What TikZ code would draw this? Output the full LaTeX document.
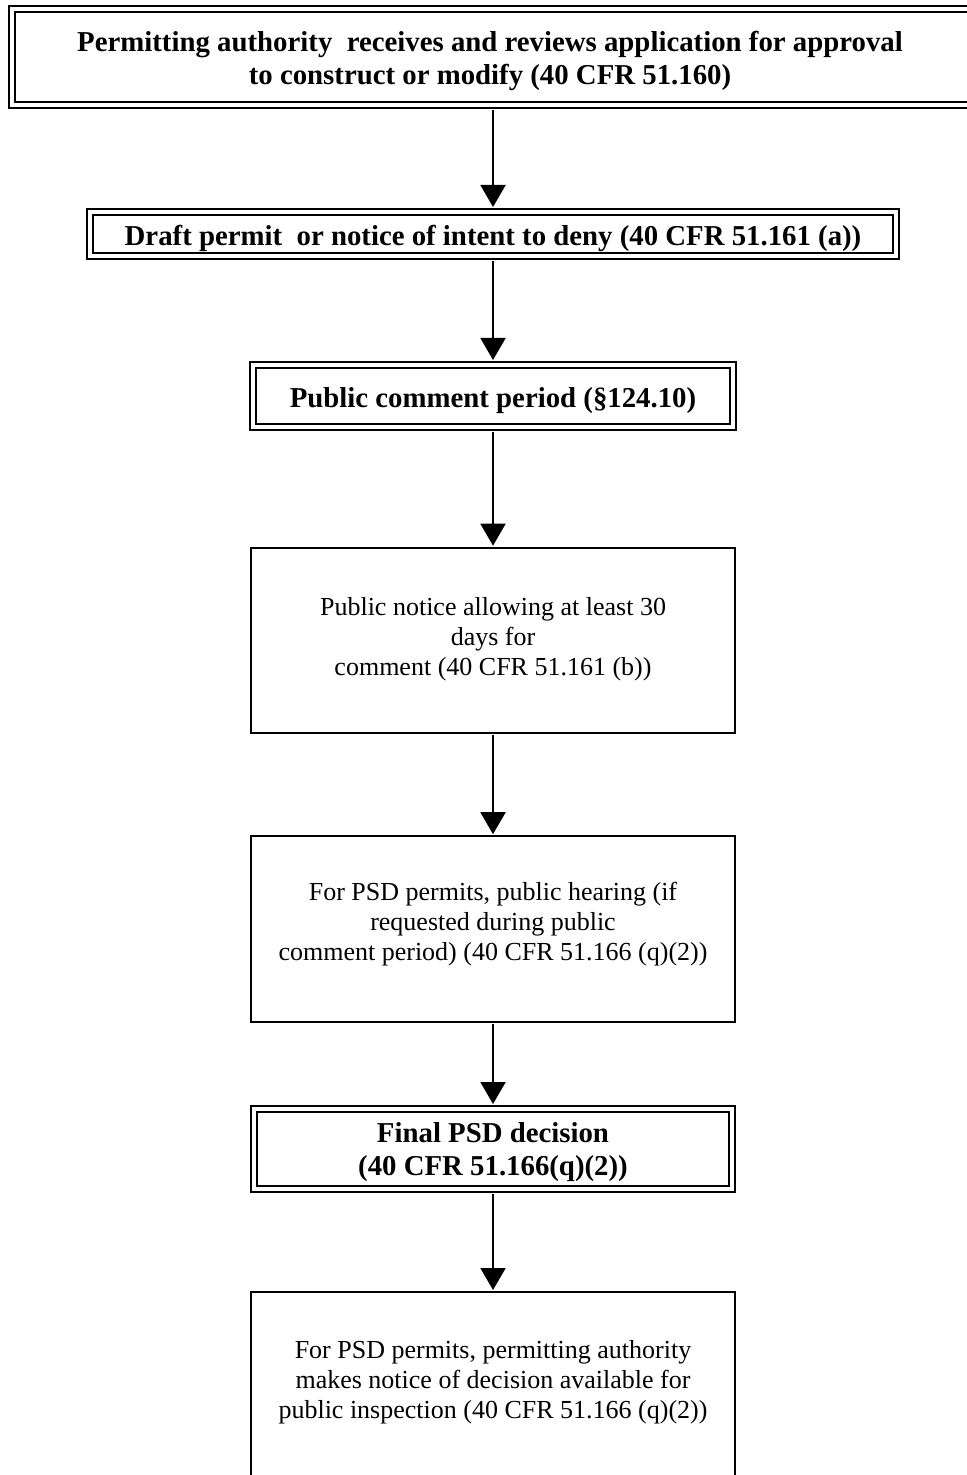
\documentclass[tikz,border=0pt]{standalone}
\usepackage{fontspec}
\setmainfont{Liberation Serif}
\usetikzlibrary{arrows.meta}
\begin{document}
\begin{tikzpicture}[x=0.5pt,y=-0.5pt,
  boxline/.style={draw=black, line width=1pt, rectangle, inner sep=0pt},
  dbox/.style={boxline, double=white, double distance=2pt},
  regtext/.style={font=\fontsize{13}{15}\selectfont, align=center, inner sep=0pt},
  boldtext/.style={font=\fontsize{14.4}{16.5}\selectfont\bfseries, align=center, inner sep=0pt},
  flow/.style={draw=black, line width=1pt, -{Triangle[length=11pt,width=12.5pt]}},
]
\path[use as bounding box, clip] (0,0) rectangle (967,1475);

% boxes
\node[dbox, minimum width=499pt, minimum height=48pt] (b1) at (511,57) {};
\node[dbox, minimum width=402.7pt, minimum height=22pt] (b2) at (493,234) {};
\node[dbox, minimum width=239.8pt, minimum height=31pt] (b3) at (493,396) {};
\node[boxline, minimum width=242pt, minimum height=92.8pt] (b4) at (493,640.5) {};
\node[boxline, minimum width=242pt, minimum height=92.8pt] (b5) at (493,929) {};
\node[dbox, minimum width=239pt, minimum height=40pt] (b6) at (493,1149) {};
\node[boxline, minimum width=242pt, minimum height=120pt, anchor=north] (b7) at (493,1291) {};

% texts
\node[boldtext] (t1) at (490,61)
  {Permitting authority~ receives and reviews application for approval\\ to construct or modify (40 CFR 51.160)};
\node[boldtext] (t2) at (493,238)
  {Draft permit~ or notice of intent to deny (40 CFR 51.161 (a))};
\node[boldtext] (t3) at (493,401)
  {Public comment period (§124.10)};
\node[regtext] (t4) at (493,639)
  {Public notice allowing at least 30\\ days for\\ comment (40 CFR 51.161 (b))};
\node[regtext] (t5) at (493,923.7)
  {For PSD permits, public hearing (if\\ requested during public\\ comment period) (40 CFR 51.166 (q)(2))};
\node[boldtext] (t6) at (493,1152)
  {Final PSD decision\\ (40 CFR 51.166(q)(2))};
\node[regtext] (t7) at (493,1382)
  {For PSD permits, permitting authority\\ makes notice of decision available for\\ public inspection (40 CFR 51.166 (q)(2))};

% connectors
\draw[flow, shorten <=2pt, shorten >=2pt] (b2.north |- b1.south) -- (b2.north);
\draw[flow, shorten <=2pt, shorten >=2pt] (b2.south) -- (b3.north);
\draw[flow, shorten <=2pt, shorten >=0.5pt] (b3.south) -- (b4.north);
\draw[flow, shorten <=0.5pt, shorten >=0.5pt] (b4.south) -- (b5.north);
\draw[flow, shorten <=0.5pt, shorten >=2pt] (b5.south) -- (b6.north);
\draw[flow, shorten <=2pt, shorten >=0.5pt] (b6.south) -- (b7.north);
\end{tikzpicture}
\end{document}
